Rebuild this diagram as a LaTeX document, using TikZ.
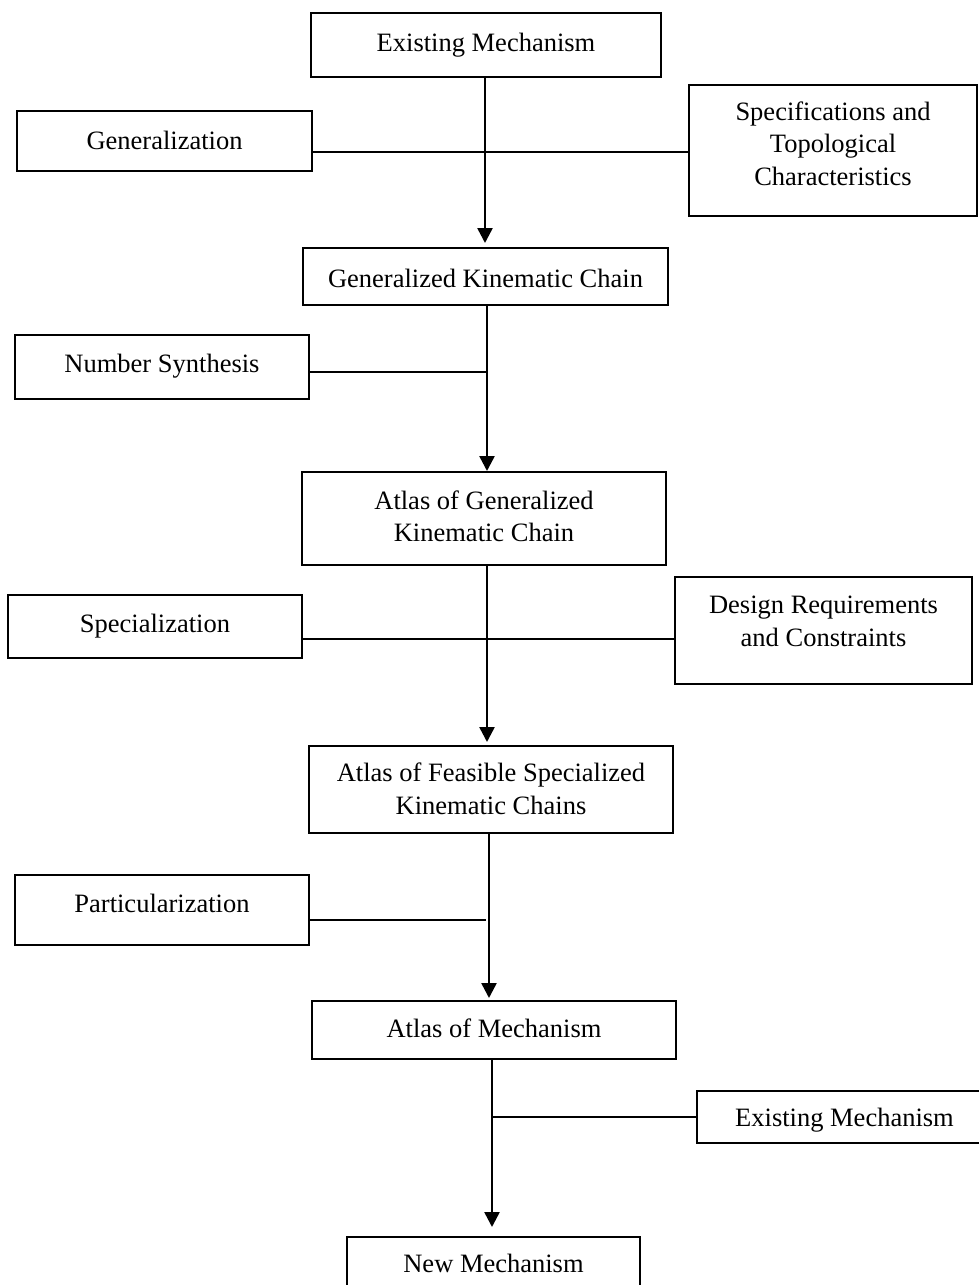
\documentclass[tikz,border=0pt]{standalone}
\usepackage{fontspec}
\setmainfont{Liberation Serif}
\usetikzlibrary{arrows.meta}
\begin{document}
\begin{tikzpicture}[x=1pt,y=-1pt,
  boxstyle/.style={draw=black,line width=2.8pt,rectangle,inner sep=0pt,outer sep=0pt},
  txt/.style={font=\fontsize{26.5}{31}\selectfont,inner sep=0pt,anchor=base},
  arr/.style={line width=2.5pt,-{Triangle[width=15pt,length=15pt]}},
  thin/.style={line width=1.2pt}]
\useasboundingbox (0,0) rectangle (979,1285);
% boxes
\node[boxstyle,minimum width=350pt,minimum height=64pt] (top) at (486,45) {};
\node[boxstyle,minimum width=295pt,minimum height=60pt] (gen) at (164.5,141) {};
\node[boxstyle,minimum width=288pt,minimum height=131pt] (spec) at (833,150.5) {};
\node[boxstyle,minimum width=365pt,minimum height=57pt] (gkc) at (485.5,276.5) {};
\node[boxstyle,minimum width=294pt,minimum height=64pt] (ns) at (162,367) {};
\node[boxstyle,minimum width=364pt,minimum height=93pt] (agkc) at (484,518.5) {};
\node[boxstyle,minimum width=294pt,minimum height=63pt] (spz) at (155,626.5) {};
\node[boxstyle,minimum width=297pt,minimum height=107pt] (design) at (823.5,630.5) {};
\node[boxstyle,minimum width=364pt,minimum height=87pt] (afskc) at (491,789.5) {};
\node[boxstyle,minimum width=294pt,minimum height=70pt] (part) at (162,910) {};
\node[boxstyle,minimum width=364pt,minimum height=58pt] (aom) at (494,1030) {};
\node[boxstyle,minimum width=295pt,minimum height=52pt] (exm) at (844.5,1117) {};
\node[boxstyle,minimum width=293pt,minimum height=63pt] (nm) at (493.5,1268.5) {};
% texts (one node per line, placed on its baseline)
\node[txt] (top-t) at (486,51) {Existing Mechanism};
\node[txt] (gen-t) at (164.5,149) {Generalization};
\node[txt] (spec-t1) at (833,120) {Specifications and};
\node[txt] (spec-t2) at (833,152.5) {Topological};
\node[txt] (spec-t3) at (833,185) {Characteristics};
\node[txt] (gkc-t) at (485.5,287) {Generalized Kinematic Chain};
\node[txt] (ns-t) at (162,372) {Number Synthesis};
\node[txt] (agkc-t1) at (484,509) {Atlas of Generalized};
\node[txt] (agkc-t2) at (484,541) {Kinematic Chain};
\node[txt] (spz-t) at (155,632) {Specialization};
\node[txt] (design-t1) at (823.5,613) {Design Requirements};
\node[txt] (design-t2) at (823.5,646) {and Constraints};
\node[txt] (afskc-t1) at (491,781) {Atlas of Feasible Specialized};
\node[txt] (afskc-t2) at (491,814) {Kinematic Chains};
\node[txt] (part-t) at (162,912) {Particularization};
\node[txt] (aom-t) at (494,1037) {Atlas of Mechanism};
\node[txt] (exm-t) at (844.5,1126) {Existing Mechanism};
\node[txt] (nm-t) at (493.5,1272) {New Mechanism};
% junctions
\coordinate (j1) at (485,152);
\coordinate (j2) at (487,372);
\coordinate (j3) at (487,639);
\coordinate (j4) at (489,920);
\coordinate (j5) at (492,1117);
% vertical arrows
\draw[arr,shorten >=5pt] (j1 |- top.south) -- (j1 |- gkc.north);
\draw[arr,shorten >=1pt] (j2 |- gkc.south) -- (j2 |- agkc.north);
\draw[arr,shorten >=4pt] (j3 |- agkc.south) -- (j3 |- afskc.north);
\draw[arr,shorten >=3pt] (j4 |- afskc.south) -- (j4 |- aom.north);
\draw[arr,shorten >=10pt] (j5 |- aom.south) -- (j5 |- nm.north);
% side connectors
\draw[thin] (j1 -| gen.east) -- (j1 -| spec.west);
\draw[thin] (j2 -| ns.east) -- (j2);
\draw[thin] (j3 -| spz.east) -- (j3 -| design.west);
\draw[thin] (j4 -| part.east) -- ([xshift=-3pt]j4);
\draw[thin] (j5) -- (j5 -| exm.west);
\end{tikzpicture}
\end{document}
